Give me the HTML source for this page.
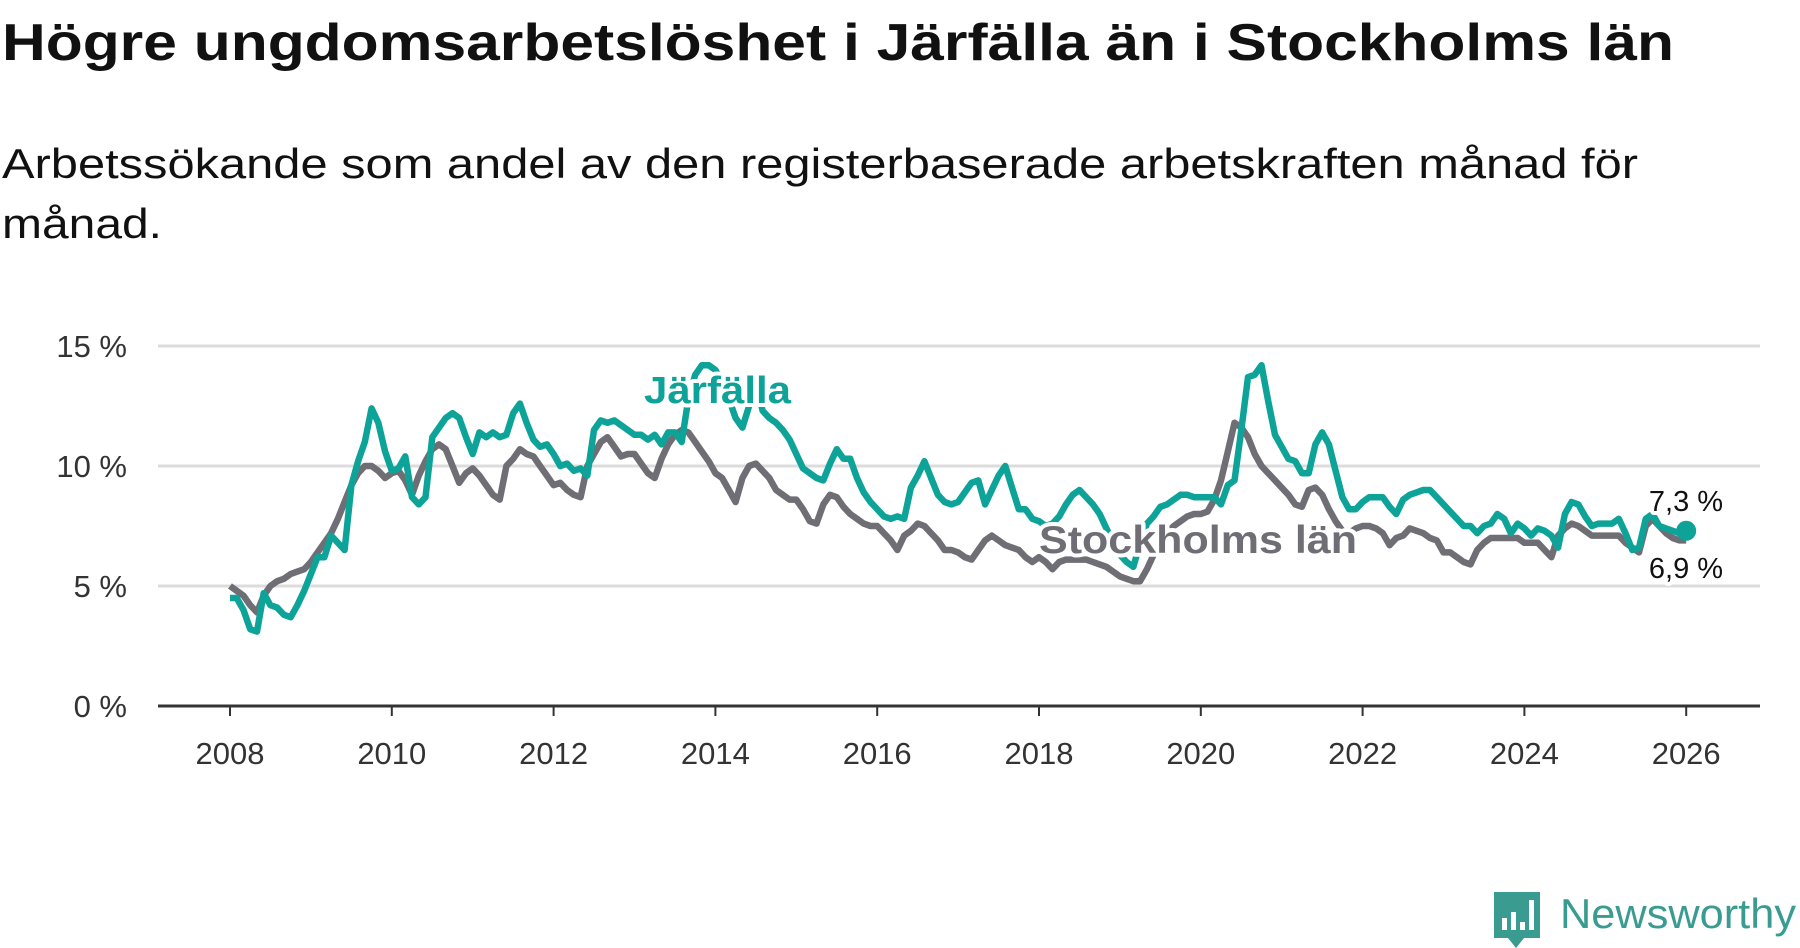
<!DOCTYPE html>
<html><head><meta charset="utf-8"><style>
html,body{margin:0;padding:0;background:#fff;}
svg{display:block;font-family:"Liberation Sans",sans-serif;}
</style></head><body>
<svg id="chart" width="1800" height="948" viewBox="0 0 1800 948">
<text x="2" y="60" font-size="52" font-weight="bold" fill="#111" textLength="1672" lengthAdjust="spacingAndGlyphs">Högre ungdomsarbetslöshet i Järfälla än i Stockholms län</text>
<text x="2" y="178" font-size="42" fill="#111" textLength="1636" lengthAdjust="spacingAndGlyphs">Arbetssökande som andel av den registerbaserade arbetskraften månad för</text>
<text x="2" y="238" font-size="42" fill="#111" textLength="160" lengthAdjust="spacingAndGlyphs">månad.</text>
<g id="grid"></g><g id="axes"></g><g id="series"></g><g id="labels"></g>
<g>
<path d="M1494 892 h46 v46 h-16 l-8 10 l-8 -10 h-14 z" fill="#3a9c90"/>
<rect x="1502" y="918" width="5" height="12" fill="#fff"/><rect x="1511" y="912" width="5" height="18" fill="#fff"/><rect x="1520" y="922" width="5" height="8" fill="#fff"/><rect x="1529" y="900" width="5" height="30" fill="#fff"/>
<text x="1560" y="928" font-size="42" fill="#3a9c90" textLength="236" lengthAdjust="spacingAndGlyphs">Newsworthy</text>
</g>
</svg>
<script>
const yTicks=[0,5,10,15];
const yTickLabels=["0 %","5 %","10 %","15 %"];
const xTicks=[2008,2010,2012,2014,2016,2018,2020,2022,2024,2026];
const startYear=2008;
const stockholm=[5.0,4.8,4.6,4.2,3.9,4.6,5.0,5.2,5.3,5.5,5.6,5.7,
6.0,6.4,6.8,7.2,7.8,8.5,9.2,9.7,10.0,10.0,9.8,9.5,
9.7,9.8,9.4,8.8,9.6,10.2,10.7,10.9,10.7,10.0,9.3,9.7,
9.9,9.6,9.2,8.8,8.6,10.0,10.3,10.7,10.5,10.4,10.0,9.6,
9.2,9.3,9.0,8.8,8.7,10.0,10.5,11.0,11.2,10.8,10.4,10.5,
10.5,10.1,9.7,9.5,10.3,10.9,11.3,11.5,11.4,11.0,10.6,10.2,
9.7,9.5,9.0,8.5,9.5,10.0,10.1,9.8,9.5,9.0,8.8,8.6,
8.6,8.2,7.7,7.6,8.4,8.8,8.7,8.3,8.0,7.8,7.6,7.5,
7.5,7.2,6.9,6.5,7.1,7.3,7.6,7.5,7.2,6.9,6.5,6.5,
6.4,6.2,6.1,6.5,6.9,7.1,6.9,6.7,6.6,6.5,6.2,6.0,
6.2,6.0,5.7,6.0,6.1,6.1,6.1,6.1,6.0,5.9,5.8,5.6,
5.4,5.3,5.2,5.2,5.7,6.3,6.8,7.2,7.5,7.7,7.9,8.0,
8.0,8.1,8.6,9.4,10.6,11.8,11.6,11.2,10.5,10.0,9.7,9.4,
9.1,8.8,8.4,8.3,9.0,9.1,8.8,8.2,7.7,7.3,7.2,7.4,
7.5,7.5,7.4,7.2,6.7,7.0,7.1,7.4,7.3,7.2,7.0,6.9,
6.4,6.4,6.2,6.0,5.9,6.5,6.8,7.0,7.0,7.0,7.0,7.0,
6.8,6.8,6.8,6.5,6.2,7.1,7.4,7.6,7.5,7.3,7.1,7.1,
7.1,7.1,7.1,6.8,6.6,6.4,7.5,7.8,7.5,7.2,7.0,6.9,
6.9];
const jarfalla=[4.5,4.5,4.0,3.2,3.1,4.7,4.2,4.1,3.8,3.7,4.2,4.8,
5.5,6.2,6.2,7.1,6.8,6.5,9.2,10.2,11.0,12.4,11.8,10.6,
9.8,9.9,10.4,8.7,8.4,8.7,11.2,11.6,12.0,12.2,12.0,11.2,
10.5,11.4,11.2,11.4,11.2,11.3,12.2,12.6,11.8,11.1,10.8,10.9,
10.5,10.0,10.1,9.8,9.9,9.6,11.5,11.9,11.8,11.9,11.7,11.5,
11.3,11.3,11.1,11.3,10.9,11.4,11.4,11.0,12.8,13.8,14.2,14.2,
14.0,13.5,12.8,12.0,11.6,12.5,13.5,12.3,12.0,11.8,11.5,11.1,
10.5,9.9,9.7,9.5,9.4,10.1,10.7,10.3,10.3,9.5,8.9,8.5,
8.2,7.9,7.8,7.9,7.8,9.1,9.6,10.2,9.5,8.8,8.5,8.4,
8.5,8.9,9.3,9.4,8.4,9.0,9.6,10.0,9.1,8.2,8.2,7.8,
7.7,7.5,7.6,7.9,8.4,8.8,9.0,8.7,8.4,8.0,7.4,6.8,
6.3,6.0,5.8,6.8,7.6,7.9,8.3,8.4,8.6,8.8,8.8,8.7,
8.7,8.7,8.7,8.4,9.2,9.4,11.5,13.7,13.8,14.2,12.7,11.3,
10.8,10.3,10.2,9.7,9.7,10.9,11.4,10.9,9.8,8.7,8.2,8.2,
8.5,8.7,8.7,8.7,8.3,8.0,8.6,8.8,8.9,9.0,9.0,8.7,
8.4,8.1,7.8,7.5,7.5,7.2,7.5,7.6,8.0,7.8,7.2,7.6,
7.4,7.1,7.4,7.3,7.1,6.6,8.0,8.5,8.4,7.9,7.5,7.6,
7.6,7.6,7.8,7.2,6.5,6.6,7.8,8.0,7.5,7.4,7.3,7.2,
7.3];
const NS="http://www.w3.org/2000/svg";
const X=yr=>230+(yr-2008)*80.9;
const Y=v=>706-v*24;
function mk(tag,attrs,parent,text){const e=document.createElementNS(NS,tag);for(const k in attrs)e.setAttribute(k,attrs[k]);if(text!==undefined)e.textContent=text;parent.appendChild(e);return e;}
const grid=document.getElementById('grid'),axes=document.getElementById('axes'),series=document.getElementById('series'),labels=document.getElementById('labels');
yTicks.forEach((t,i)=>{
 if(t>0){const l=mk('line',{x1:158,x2:1760,y1:Y(t),y2:Y(t),stroke:'#dcdcdc','stroke-width':3},grid);
 
 }
 const tx=mk('text',{x:127,y:Y(t)+11,'text-anchor':'end','font-size':31,fill:'#333'},axes,yTickLabels[i]);
 
 
});
const ax=mk('line',{x1:158,x2:1760,y1:Y(0),y2:Y(0),stroke:'#333','stroke-width':3},axes);


xTicks.forEach(t=>{
 const tk=mk('line',{x1:X(t),x2:X(t),y1:Y(0),y2:Y(0)+10,stroke:'#333','stroke-width':2},axes);
 
 
 const tx=mk('text',{x:X(t),y:764,'text-anchor':'middle','font-size':31,fill:'#333'},axes,String(t));
 
 
});
function line(vals,color,name){
 const d=vals.map((v,i)=>(i?'L':'M')+X(startYear+i/12).toFixed(1)+' '+Y(v).toFixed(1)).join(' ');
 const p=mk('path',{d:d,fill:'none',stroke:color,'stroke-width':6.5,'stroke-linejoin':'round'},series);
 
 
}
line(stockholm,'#6f6e74','stockholm-line');
line(jarfalla,'#0ea398','jarfalla-line');
const lastJ=jarfalla[jarfalla.length-1],lastS=stockholm[stockholm.length-1];
const n=jarfalla.length-1;
const dot=mk('circle',{cx:X(startYear+n/12),cy:Y(lastJ),r:10,fill:'#0ea398'},series);


const halo={stroke:'#fff','stroke-width':8,'paint-order':'stroke','stroke-linejoin':'round'};
const l1=mk('text',Object.assign({x:644,y:403,'font-size':38,'font-weight':'bold',fill:'#0ea398',textLength:147,lengthAdjust:'spacingAndGlyphs'},halo),labels,'Järfälla');


const l2=mk('text',Object.assign({x:1039,y:553,'font-size':39,'font-weight':'bold',fill:'#6f6e74',textLength:318,lengthAdjust:'spacingAndGlyphs'},halo),labels,'Stockholms län');


const e1=mk('text',Object.assign({x:1686,y:511,'text-anchor':'middle','font-size':29,fill:'#111'},halo),labels,lastJ.toFixed(1).replace('.',',')+' %');


const e2=mk('text',Object.assign({x:1686,y:578,'text-anchor':'middle','font-size':29,fill:'#111'},halo),labels,lastS.toFixed(1).replace('.',',')+' %');


</script>
</body></html>
